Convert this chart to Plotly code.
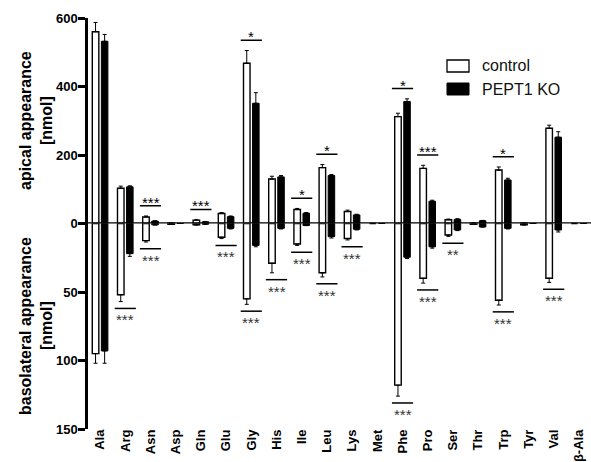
import plotly.graph_objects as go

categories = ["Ala", "Arg", "Asn", "Asp", "Gln", "Glu", "Gly", "His", "Ile", "Leu",
              "Lys", "Met", "Phe", "Pro", "Ser", "Thr", "Trp", "Tyr", "Val", "β-Ala"]

apical_control = [560, 103, 19, 1, 10, 29, 468, 130, 41, 163, 35, 0, 312, 161, 11, 1, 156, 1, 278, 0]
apical_control_err = [27, 6, 3, 0, 1, 3, 37, 8, 3, 9, 4, 0, 10, 9, 2, 0, 9, 0, 9, 0]
apical_ko = [532, 107, 7, 0, 5, 20, 351, 136, 30, 140, 25, 0, 356, 65, 12, 8, 127, 0, 252, 0]
apical_ko_err = [20, 3, 1, 0, 1, 2, 31, 4, 2, 3, 2, 0, 8, 3, 2, 1, 5, 0, 16, 0]

baso_control = [95, 52, 12.5, 0.5, 1, 10, 55, 29, 15, 36, 11, 0, 118, 40, 8.4, 0.5, 56, 1, 40, 0]
baso_control_err = [7, 5, 1, 0, 0, 1, 4, 7, 1, 3, 1, 0, 8, 3.5, 1, 0, 3.5, 0, 3, 0]
baso_ko = [93, 22, 1, 0, 0.5, 3.5, 16, 3.5, 1.5, 9.6, 4.2, 0, 24.6, 17, 4.7, 2.5, 3.5, 0, 4.7, 0]
baso_ko_err = [9, 2, 0, 0, 0, 0.5, 1, 0.5, 0, 1, 0.5, 0, 1, 1, 0.5, 0, 0.5, 0, 1.5, 0]

sig_apical = {"Asn": "***", "Gln": "***", "Gly": "*", "Ile": "*", "Leu": "*",
              "Phe": "*", "Pro": "***", "Trp": "*"}
sig_baso = {"Arg": "***", "Asn": "***", "Glu": "***", "Gly": "***", "His": "***",
            "Ile": "***", "Leu": "***", "Lys": "***", "Phe": "***", "Pro": "***",
            "Ser": "**", "Trp": "***", "Val": "***"}

apical_title = ["apical appearance", "[nmol]"]
baso_title = ["basolateral appearance", "[nmol]"]

FONT = "Liberation Sans, Arial, Helvetica, sans-serif"
W, H = 591, 462
ML, MR, MT, MB = 88, 0, 18, 33
PW, PH = W - ML - MR, H - MT - MB


def px2paper(px, py):
    return (px - ML) / PW, (H - MB - py) / PH


zeros = [0] * len(categories)

fig = go.Figure()


def add_pair(ctrl, ctrl_err, ko, ko_err, yaxis):
    fig.add_trace(go.Bar(
        x=categories, y=ctrl, yaxis=yaxis, name="control", showlegend=False,
        marker=dict(color="white", line=dict(color="black", width=1.4)),
        error_y=dict(type="data", array=ctrl_err, arrayminus=zeros, symmetric=False,
                     color="black", thickness=1, width=2),
    ))
    fig.add_trace(go.Bar(
        x=categories, y=ko, yaxis=yaxis, name="PEPT1 KO", showlegend=False,
        marker=dict(color="black", line=dict(color="black", width=1)),
        error_y=dict(type="data", array=ko_err, arrayminus=zeros, symmetric=False,
                     color="black", thickness=1, width=2),
    ))


add_pair(apical_control, apical_control_err, apical_ko, apical_ko_err, "y")
add_pair(baso_control, baso_control_err, baso_ko, baso_ko_err, "y2")

shapes = []
annotations = []

# significance marks (apical: above bars)
for cat, stars in sig_apical.items():
    i = categories.index(cat)
    top = max(apical_control[i] + apical_control_err[i], apical_ko[i] + apical_ko_err[i])
    level = top + 30
    shapes.append(dict(type="line", xref="x", yref="y", x0=i - 0.42, x1=i + 0.42,
                       y0=level, y1=level, line=dict(color="black", width=1.5)))
    annotations.append(dict(x=i, y=level, xref="x", yref="y", text=stars, showarrow=False,
                            yanchor="bottom", yshift=-7,
                            font=dict(family=FONT, size=15, color="black")))

# significance marks (basolateral: below bars)
for cat, stars in sig_baso.items():
    i = categories.index(cat)
    bot = max(baso_control[i] + baso_control_err[i], baso_ko[i] + baso_ko_err[i])
    level = bot + 5
    shapes.append(dict(type="line", xref="x", yref="y2", x0=i - 0.42, x1=i + 0.42,
                       y0=level, y1=level, line=dict(color="black", width=1.5)))
    annotations.append(dict(x=i, y=level, xref="x", yref="y2", text=stars, showarrow=False,
                            yanchor="top", yshift=-1,
                            font=dict(family=FONT, size=15, color="#333")))

# zero line
shapes.append(dict(type="line", xref="paper", yref="y", x0=0, x1=1, y0=0, y1=0,
                   line=dict(color="black", width=2.5)))

# legend drawn manually
x0, y0 = px2paper(447, 60)
x1, y1 = px2paper(469, 72)
shapes.append(dict(type="rect", xref="paper", yref="paper", x0=x0, x1=x1, y0=y0, y1=y1,
                   fillcolor="white", line=dict(color="black", width=1.3)))
x0, y0 = px2paper(447, 83)
x1, y1 = px2paper(469, 95)
shapes.append(dict(type="rect", xref="paper", yref="paper", x0=x0, x1=x1, y0=y0, y1=y1,
                   fillcolor="black", line=dict(color="black", width=1)))
tx, ty = px2paper(480, 66)
annotations.append(dict(x=tx, y=ty, xref="paper", yref="paper", text="control",
                        showarrow=False, xanchor="left", yanchor="middle",
                        font=dict(family=FONT, size=16, color="#111")))
tx, ty = px2paper(480, 89)
annotations.append(dict(x=tx, y=ty, xref="paper", yref="paper", text="PEPT1 KO",
                        showarrow=False, xanchor="left", yanchor="middle",
                        font=dict(family=FONT, size=16, color="#111")))

# axis titles (two lines each)
for lines, ypx in ((apical_title, 121), (baso_title, 326)):
    for text, xpx in zip(lines, (25, 46)):
        ax, ay = px2paper(xpx, ypx)
        annotations.append(dict(x=ax, y=ay, xref="paper", yref="paper", text=f"<b>{text}</b>",
                                showarrow=False, textangle=-90, xanchor="center",
                                yanchor="middle",
                                font=dict(family=FONT, size=16, color="black")))

axis_common = dict(
    showline=True, linecolor="black", linewidth=2.5, ticks="outside", ticklen=7,
    tickwidth=2.5, tickcolor="black", showgrid=False, zeroline=False, automargin=False,
    ticklabelstandoff=-2,
    tickfont=dict(family=FONT, size=13, color="black", weight="bold"),
)

fig.update_layout(
    template="none",
    width=W, height=H,
    margin=dict(l=ML, r=MR, t=MT, b=MB, pad=0, autoexpand=False),
    paper_bgcolor="white", plot_bgcolor="white",
    barmode="group", bargap=0.28, bargroupgap=0.28,
    showlegend=False,
    xaxis=dict(range=[-0.48, 19.48], anchor="y2", showline=False, ticks="",
               tickangle=-90, showgrid=False, zeroline=False, automargin=False,
               ticklabelstandoff=-3,
               tickfont=dict(family=FONT, size=13, color="black", weight="bold")),
    yaxis=dict(domain=[0.5, 1], range=[0, 600], tickvals=[0, 200, 400, 600], **axis_common),
    yaxis2=dict(domain=[0, 0.5], range=[150, 0], tickvals=[50, 100, 150], **axis_common),
    shapes=shapes,
    annotations=annotations,
)

fig.write_html("out.html", config={"displayModeBar": False},
               post_script="document.body.style.margin='0px';document.body.style.overflow='hidden';")
